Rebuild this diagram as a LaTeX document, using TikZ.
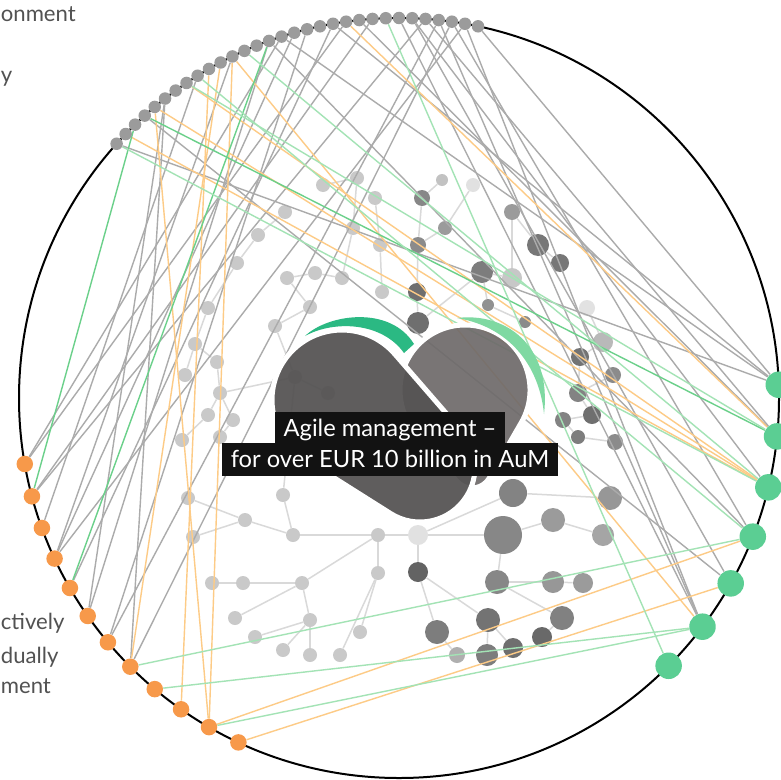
\documentclass[tikz,border=0pt]{standalone}
\usepackage{fontspec}
\setmainfont{Lato}
\usetikzlibrary{backgrounds}

\definecolor{dotgrey}{HTML}{9B9B9B}
\definecolor{dotorange}{HTML}{F7994A}
\definecolor{dotgreen}{HTML}{5BCE93}
\definecolor{linkgrey}{HTML}{ABABAB}
\definecolor{linkorange}{HTML}{FDCB86}
\definecolor{linkgreen}{HTML}{6BD08A}
\definecolor{linklight}{HTML}{A3E3B5}
\definecolor{logodark}{HTML}{555353}
\definecolor{logolight}{HTML}{6E6A6A}
\definecolor{arcdark}{HTML}{2BB983}
\definecolor{arclight}{HTML}{7FD9A2}

\begin{document}
\begin{tikzpicture}[x=0.2mm,y=-0.2mm,
    grey dot/.style={circle,fill=dotgrey,inner sep=0pt,minimum size=2.5mm},
    orange dot/.style={circle,fill=dotorange,inner sep=0pt,minimum size=3.3mm},
    green dot/.style={circle,fill=dotgreen,inner sep=0pt,minimum size=5.3mm},
    tree node/.style={circle,fill=black!21,inner sep=0pt,minimum size=2.8mm},
    hub node/.style={circle,inner sep=0pt,opacity=0.78},
    tree link/.style={draw=black!15,line width=0.3mm},
    link/.style={line width=0.28mm},
    label box/.style={anchor=base,fill=black!93,text=white,inner xsep=1.8mm,inner ysep=0pt,
        text height=4.9mm,text depth=1.8mm,font=\fontsize{13.5pt}{16pt}\selectfont},
    side text/.style={anchor=base west,text=black!68,inner sep=0pt,font=\fontsize{12.6pt}{15pt}\selectfont}]

\useasboundingbox (0,0) rectangle (781,779);

\draw[line width=0.4mm] (399,398) circle (380);

\foreach \i in {0,...,30}
    \node[grey dot] at ({399+380*cos(138-2*\i)}, {398-380*sin(138-2*\i)}) (g\i) {};
\foreach \i in {0,...,11}
    \node[orange dot] at ({399+380*cos(190+5*\i)}, {398-380*sin(190+5*\i)}) (o\i) {};
\foreach \i in {0,...,6}
    \node[green dot] at ({399+380*cos(2-7.8*\i)}, {398-380*sin(2-7.8*\i)}) (e\i) {};

\begin{scope}[on background layer]
    \fill[white] (0,0) rectangle (781,779);

    \foreach \n/\x/\y in {1/323/185, 2/357/178, 3/375/198, 4/353/228, 5/285/212, 6/258/235,
            7/237/263, 8/315/273, 9/287/278, 10/342/278, 11/380/245, 12/382/292, 13/310/307,
            14/275/326, 15/208/308, 16/195/344, 17/217/362, 18/185/375, 19/220/393, 20/208/415,
            21/233/420, 22/182/440, 23/220/437, 24/295/377, 25/328/393, 26/188/498, 27/283/495,
            28/245/520, 29/193/537, 30/293/535, 31/378/535, 32/212/583, 33/243/583, 34/302/583,
            35/378/573, 36/235/618, 37/310/620, 38/255/637, 39/360/632, 40/283/650, 41/310/655,
            42/340/655}
        \node[tree node] at (\x, \y) (l\n) {};

    \foreach \n/\x/\y/\s/\c in {1/442/180/12/30, 2/473/185/14/15, 3/422/198/16/60, 4/445/228/14/50,
            5/512/212/16/50, 6/418/245/16/58, 7/538/245/22/68, 8/560/263/18/68, 9/482/272/22/65,
            10/512/278/20/28, 11/417/292/18/72, 12/488/305/12/55, 13/525/322/12/58, 14/418/323/22/72,
            15/587/308/16/14, 16/603/342/20/35, 17/580/357/18/70, 18/578/393/18/62, 19/613/375/16/58,
            20/592/415/18/72, 21/563/420/16/62, 22/578/437/14/65, 23/615/442/16/58, 24/513/493/28/62,
            25/503/535/38/60, 26/553/520/24/50, 27/603/535/22/45, 28/610/498/24/52, 29/418/572/20/78,
            30/497/582/24/60, 31/553/582/22/52, 32/583/583/20/50, 33/488/620/24/70, 34/437/632/24/65,
            35/562/618/24/63, 36/542/637/20/75, 37/487/655/22/65, 38/513/648/20/72, 39/457/655/16/40,
            40/418/535/20/15}
        \node[hub node,fill=black!\c,minimum size=\s*0.2mm] at (\x, \y) (r\n) {};

    \foreach \a/\b in {l31/l30, l30/l28, l28/l29, l28/l26, l30/l27, l27/l24, l31/l34, l34/l33,
            l33/l32, l34/l36, l34/l37, l37/l38, l37/l41, l37/l40, l35/l39, l35/l42, l31/l35,
            l24/l25, l24/l19, l19/l17, l17/l16, l19/l21, l21/l23, l20/l22, l19/l20, l16/l18,
            l16/l15, l15/l7, l7/l6, l6/l5, l14/l13, l13/l9, l9/l8, l8/l10, l10/l4, l4/l2,
            l2/l1, l12/l11, l11/l3, l14/l24, l31/r40,
            r40/r25, r40/r24, r25/r26, r26/r27, r24/r28, r25/r30, r30/r31, r31/r32, r40/r29,
            r29/r34, r29/r33, r33/r37, r33/r38, r30/r35, r35/r36, r34/r39, r11/r6, r6/r3,
            r3/r1, r6/r4, r4/r2, r9/r10, r10/r5, r5/r7, r7/r8, r9/r12, r12/r13, r16/r15,
            r16/r17, r17/r18, r18/r19, r20/r21, r21/r22, r22/r23, r14/r11, r14/r9, r18/r20}
        \path[tree link] (\a) edge (\b);

    \path[link,draw=linkgrey]
        (g30) edge (e0) (g19) edge (e0) (g15) edge (e0) (g0) edge (e0)
        (g26) edge (e1) (g21) edge (e1)
        (g25) edge (e2)
        (g28) edge (e3) (g14) edge (e3)
        (g3) edge (e4) (g25) edge (e4)
        (g24) edge (e5) (g29) edge (e5) (g27) edge (e5)
        (g20) edge (o0) (g15) edge (o0)
        (g22) edge (o1) (g26) edge (o1)
        (g8) edge (o2)
        (g11) edge (o3) (g29) edge (o3) (g16) edge (o3)
        (g19) edge (o4)
        (g5) edge (o5) (g14) edge (o5)
        (g17) edge (o6) (g27) edge (o6)
        (g5) edge (o7) (g28) edge (o7);

    \path[link,draw=linkorange]
        (g20) edge (e1)
        (g7) edge (e2) (g4) edge (e2) (g1) edge (e2)
        (g11) edge (e5)
        (o10) edge (e3) (o11) edge (e4)
        (g10) edge (o7) (g9) edge (o9) (g4) edge (o10) (g11) edge (o10);

    \path[link,draw=linkgreen]
        (g2) edge (o1) (g14) edge (o4) (g3) edge (e1);

    \path[link,draw=linklight]
        (g0) edge (e2) (g12) edge (e2) (g7) edge (e1) (g8) edge (e3) (g23) edge (e6)
        (o7) edge (e3) (o8) edge (e5) (o10) edge (e5);
\end{scope}

\fill[logolight,fill opacity=0.92,draw=white,line width=1mm]
    (521.3,422.5) arc[start angle=30,end angle=-220.2,radius=65]
    -- (456.7,480.9) arc[start angle=139.8,end angle=30,radius=20] -- cycle;
\fill[logodark,fill opacity=0.94,draw=white,line width=1mm]
    (394.9,354.2) arc[start angle=-40.9,end angle=-237.7,radius=70]
    -- (390.6,513.5) arc[start angle=122.3,end angle=-40.9,radius=55] -- cycle;
\fill[arcdark] (305,336) .. controls (328,314) and (390,305) .. (414,344)
    -- (404,353) .. controls (382,322) and (334,320) .. (305,336) -- cycle;
\fill[arclight] (457,318) .. controls (505,312) and (552,345) .. (544,414)
    .. controls (540,372) and (515,328) .. (457,318) -- cycle;

\node[label box] at (390,436) (title) {Agile management –};
\node[label box] at (390,467) (subtitle) {for over EUR 10 billion in AuM};

\node[side text] at (0.5,22) (environment) {onment};
\node[side text] at (0.5,82) (ly) {y};
\node[side text] at (0.5,629) (actively) {ctively};
\node[side text] at (0.5,663) (individually) {dually};
\node[side text] at (0.5,693) (management) {ment};
\end{tikzpicture}
\end{document}
